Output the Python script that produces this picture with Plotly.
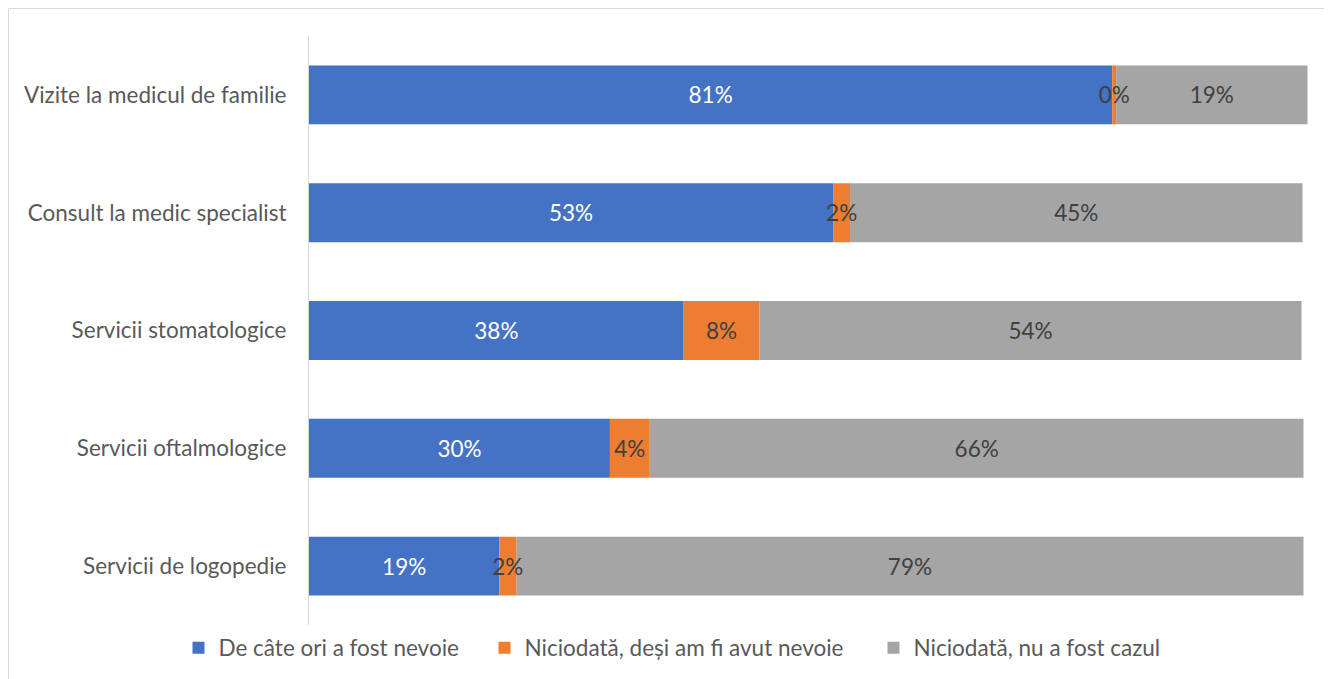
import plotly.graph_objects as go

categories = [
    "Vizite la medicul de familie",
    "Consult la medic specialist",
    "Servicii stomatologice",
    "Servicii oftalmologice",
    "Servicii de logopedie",
]
series_names = [
    "De câte ori a fost nevoie",
    "Niciodată, deși am fi avut nevoie",
    "Niciodată, nu a fost cazul",
]
val_needed = [0.806, 0.526, 0.376, 0.302, 0.191]
val_never_need = [0.004, 0.017, 0.076, 0.040, 0.017]
val_never_case = [0.192, 0.454, 0.544, 0.656, 0.790]

colors = ["#4472C4", "#ED7D31", "#A5A5A5"]
text_colors = ["#FFFFFF", "#404040", "#404040"]
FONT = "Lato"
FS = 22.5

# stacking bases derived from the data
base_needed = [0.0] * len(val_needed)
base_never_need = list(val_needed)
base_never_case = [a + b for a, b in zip(val_needed, val_never_need)]

# page body offset (default 8px margin) compensated in figure size
OFF = 8
W, H = 1332 - OFF, 679 - OFF
L, R, T, B = 301, 22, 28, 54
pw = W - L - R
ph = H - T - B
S = 996.5

legend_square_centers = [199, 505, 894]  # absolute px positions of legend items
legend_keys = ["legend", "legend2", "legend3"]

def lx(center):
    return (center - 20.5 - OFF - L) / pw

leg_y = -((648 - OFF) - (T + ph)) / ph

series = [
    (0, val_needed, base_needed),
    (2, val_never_case, base_never_case),
    (1, val_never_need, base_never_need),
]

fig = go.Figure()
for idx, vals, base in series:
    fig.add_trace(go.Bar(
        y=categories, x=vals, base=base, name=series_names[idx], orientation="h",
        marker=dict(color=colors[idx], line=dict(width=0)),
        texttemplate="%{x:.0%}", textposition="inside", insidetextanchor="middle",
        insidetextfont=dict(color=text_colors[idx], size=FS, family=FONT),
        textangle=0, legend=legend_keys[idx], showlegend=True,
    ))

legend_common = dict(orientation="h", xref="paper", xanchor="left", yref="paper",
                     y=leg_y, yanchor="middle", bgcolor="rgba(0,0,0,0)",
                     font=dict(size=FS, color="#595959", family=FONT),
                     itemwidth=30)

fig.update_layout(
    width=W, height=H, barmode="overlay", bargap=0.5, showlegend=True,
    margin=dict(l=L, r=R, t=T, b=B, autoexpand=False),
    paper_bgcolor="white", plot_bgcolor="white",
    font=dict(family=FONT, size=FS, color="#595959"),
    uniformtext=dict(minsize=FS, mode="show"),
    xaxis=dict(range=[0, pw / S], visible=False, fixedrange=True),
    yaxis=dict(autorange="reversed", showline=True, linecolor="#D9D9D9", linewidth=1,
               ticks="", ticklabelstandoff=17, showgrid=False,
               tickfont=dict(size=FS, color="#595959", family=FONT)),
    legend=dict(x=lx(legend_square_centers[0]), **legend_common),
    legend2=dict(x=lx(legend_square_centers[1]), **legend_common),
    legend3=dict(x=lx(legend_square_centers[2]), **legend_common),
    shapes=[dict(type="rect", xref="paper", yref="paper",
                 x0=-(L - 0.5) / pw, x1=(W + 5 - L) / pw,
                 y0=-(H + 5 - T - ph) / ph, y1=1 + (T - 0.5) / ph,
                 line=dict(color="#D9D9D9", width=1), fillcolor="rgba(0,0,0,0)", layer="below")],
)
fig.write_html("out.html")
